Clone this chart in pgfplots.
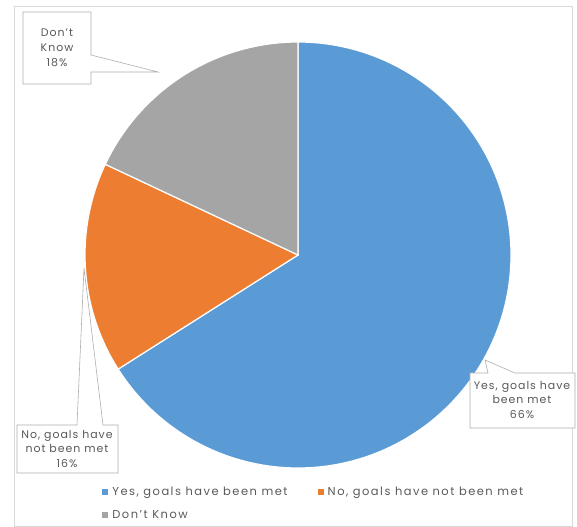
\documentclass[border=0pt]{standalone}
\usepackage{fontspec}
\setmainfont{Poppins}[LetterSpace=9]
\usepackage{pgfplots}
\usepackage{pgfplotstable}
\pgfplotsset{compat=1.18}
\definecolor{pieblue}{HTML}{5B9BD5}
\definecolor{pieorange}{HTML}{ED7D31}
\definecolor{piegray}{HTML}{A5A5A5}
\definecolor{txt}{HTML}{595959}
\definecolor{frame}{HTML}{D9D9D9}
\pgfplotstableread{
label value
Yes 66
No 16
DK 18
}\piedata
\pgfplotstablegetelem{0}{value}\of\piedata \let\va\pgfplotsretval
\pgfplotstablegetelem{1}{value}\of\piedata \let\vb\pgfplotsretval
\pgfplotstablegetelem{2}{value}\of\piedata \let\vc\pgfplotsretval
\pgfmathsetmacro\aone{90-3.6*\va}
\pgfmathsetmacro\atwo{\aone-3.6*\vb}
\pgfmathsetmacro\athree{\atwo-3.6*\vc}
\begin{document}
\begin{tikzpicture}
\begin{axis}[
  scale only axis, width=577bp, height=527bp,
  xmin=-298, xmax=279, ymin=-272, ymax=255,
  hide axis, clip=false,
  legend columns=2,
  legend style={draw=none, fill=none, font=\fontsize{11.5}{13}\selectfont\addfontfeature{LetterSpace=13}, text=txt,
    at={(axis cs:-196,-230)}, anchor=north west,
    /tikz/every odd column/.append style={column sep=2bp},
    /tikz/every even column/.append style={column sep=28bp},
    row sep=9bp, inner sep=0pt},
  legend cell align=left,
]
\addplot[fill=pieblue, draw=white, line width=1.2pt, data cs=polar, domain=\aone:90, samples=120,
  legend image code/.code={\fill[pieblue] (0bp,-2.5bp) rectangle (5bp,2.5bp);}]
  ({x},{213}) -- (axis cs:0,0) -- cycle;
\addlegendentry{Yes, goals have been met}
\addplot[fill=pieorange, draw=white, line width=1.2pt, data cs=polar, domain=\atwo:\aone, samples=40,
  legend image code/.code={\fill[pieorange] (0bp,-2.5bp) rectangle (5bp,2.5bp);}]
  ({x},{213}) -- (axis cs:0,0) -- cycle;
\addlegendentry{No, goals have not been met}
\addplot[fill=piegray, draw=white, line width=1.2pt, data cs=polar, domain=\athree:\atwo, samples=40,
  legend image code/.code={\fill[piegray] (0bp,-2.5bp) rectangle (5bp,2.5bp);}]
  ({x},{213}) -- (axis cs:0,0) -- cycle;
\addlegendentry{Don't Know}
% frame
\draw[frame, line width=0.6pt] (axis cs:-284,249) rectangle (axis cs:274,-271);
% callouts
\filldraw[fill=white, draw=frame!80!black, line width=0.6pt]
  (axis cs:-275,243) -- (axis cs:-207,243) -- (axis cs:-207,200) -- (axis cs:-140,183)
  -- (axis cs:-207,183) -- (axis cs:-207,171) -- (axis cs:-275,171) -- cycle;
\node[text=txt, font=\fontsize{11}{15}\selectfont, align=center] at (axis cs:-241,207) {Don't\\Know\\18\%};
\filldraw[fill=white, draw=frame!80!black, line width=0.6pt]
  (axis cs:172,-118) -- (axis cs:190,-118) -- (axis cs:187,-105) -- (axis cs:217,-118)
  -- (axis cs:277,-118) -- (axis cs:277,-173) -- (axis cs:172,-173) -- cycle;
\node[text=txt, font=\fontsize{11}{15}\selectfont, align=center] at (axis cs:224,-145) {Yes, goals have\\been met\\66\%};
\filldraw[fill=white, draw=frame!80!black, line width=0.6pt]
  (axis cs:-281,-170) -- (axis cs:-221,-170) -- (axis cs:-214,-13) -- (axis cs:-195,-170)
  -- (axis cs:-180,-170) -- (axis cs:-180,-218) -- (axis cs:-281,-218) -- cycle;
\node[text=txt, font=\fontsize{11}{15}\selectfont, align=center] at (axis cs:-231,-194) {No, goals have\\not been met\\16\%};
\end{axis}
\pgfresetboundingbox
\path (current axis.south west) rectangle (current axis.north east);
\end{tikzpicture}
\end{document}
